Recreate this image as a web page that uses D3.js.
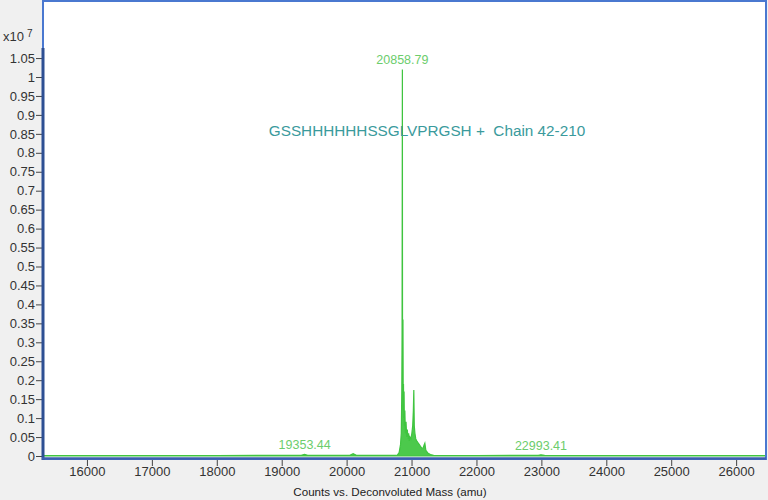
<!DOCTYPE html>
<html>
<head>
<meta charset="utf-8">
<script src="https://cdn.jsdelivr.net/npm/d3@7"></script>
<style>
  body { margin: 0; background: #f0f0f0; }
  svg { display: block; font-family: "Liberation Sans", Arial, sans-serif; }
</style>
</head>
<body>
<svg id="chart" width="768" height="500"></svg>
<script>
// spectrum profile, mass (amu) and counts in units of 1e7
const masses = [15323, 16500, 18000, 19300, 19353.44, 19400, 20050, 20100, 20150, 20780,
  20810, 20830, 20842, 20850, 20854, 20858.79, 20861, 20864, 20868, 20872,
  20876, 20880, 20885, 20890, 20897, 20905, 20915, 20925, 20935, 20945,
  20955, 20965, 20975, 20990, 21005, 21018, 21028, 21035, 21042, 21052,
  21065, 21080, 21100, 21120, 21140, 21160, 21180, 21195, 21205, 21220,
  21250, 21290, 21340, 22000, 22950, 22993.41, 23050, 24500, 26460]
const counts = [0.001, 0.001, 0.001, 0.002, 0.004, 0.002, 0.002, 0.006, 0.002, 0.002,
  0.01, 0.03, 0.06, 0.17, 0.32, 1.02, 0.35, 0.19, 0.36, 0.12,
  0.19, 0.1, 0.17, 0.08, 0.12, 0.06, 0.09, 0.05, 0.07, 0.045,
  0.06, 0.04, 0.05, 0.045, 0.06, 0.08, 0.12, 0.174, 0.08, 0.06,
  0.045, 0.04, 0.035, 0.03, 0.025, 0.02, 0.022, 0.03, 0.034, 0.015,
  0.008, 0.004, 0.002, 0.001, 0.002, 0.003, 0.002, 0.001, 0.001]
const spectrum = masses.map((m, i) => ({mass: m, count: counts[i]}))

// peak labels
const peakMasses = [19353.44, 20858.79, 22993.41]
const peakCounts = [0.004, 1.02, 0.003]

const xTicks = [16000, 17000, 18000, 19000, 20000, 21000, 22000, 23000, 24000, 25000, 26000]
const yTicks = d3.range(0, 1.0501, 0.05)

const annotation = "GSSHHHHHHSSGLVPRGSH +  Chain 42-210"
const xTitle = "Counts vs. Deconvoluted Mass (amu)"

const svg = d3.select('#chart')
const plotLeft = 43, plotRight = 766, plotTop = 1, plotBottom = 459

const x = d3.scaleLinear().domain([15323, 26460]).range([plotLeft, plotRight])
const y = d3.scaleLinear().domain([0, 1]).range([456, 77])

// plot area
svg.append('rect')
  .attr('x', plotLeft).attr('y', plotTop)
  .attr('width', plotRight - plotLeft).attr('height', plotBottom - plotTop)
  .attr('fill', '#ffffff')
  .attr('stroke', '#4a78d0').attr('stroke-width', 2)

svg.append('clipPath').attr('id', 'clip')
  .append('rect').attr('x', plotLeft + 1).attr('y', plotTop + 1)
  .attr('width', plotRight - plotLeft - 2).attr('height', plotBottom - plotTop - 2)

const plot = svg.append('g').attr('clip-path', 'url(#clip)')

plot.append('path')
  .datum(spectrum)
  .attr('fill', '#4cc94c')
  .attr('stroke', '#3fc43f')
  .attr('stroke-width', 1.2)
  .attr('d', d3.area()
    .x(d => x(d.mass))
    .y0(y(0))
    .y1(d => y(d.count)))

// peak labels
plot.selectAll('.peak')
  .data(peakMasses)
  .join('text')
    .attr('class', 'peak')
    .attr('x', d => x(d))
    .attr('y', (d, i) => y(peakCounts[i]) - 5)
    .attr('text-anchor', 'middle')
    .attr('font-size', 12.5)
    .attr('fill', '#6ccd6c')
    .text(d => d.toFixed(2))

plot.append('text')
  .attr('x', 427).attr('y', 136)
  .attr('text-anchor', 'middle')
  .attr('font-size', 15.3)
  .attr('fill', '#3a9a9c')
  .attr('xml:space', 'preserve')
  .text(annotation)

// x axis
const xg = svg.append('g').attr('transform', 'translate(0,' + 460 + ')')
  .call(d3.axisBottom(x).tickValues(xTicks).tickFormat(d3.format('d')).tickSizeOuter(0).tickSize(6))
xg.select('.domain').remove()
xg.selectAll('line').attr('stroke', '#444')
xg.selectAll('text').attr('font-size', 13).attr('fill', '#333').attr('y', 7)
  .attr('font-family', '"Liberation Sans", Arial, sans-serif')

// y axis
const yg = svg.append('g').attr('transform', 'translate(' + 42 + ',0)')
  .call(d3.axisLeft(y).tickValues(yTicks).tickFormat(d => d3.format('~g')(+d.toFixed(2))).tickSizeOuter(0).tickSize(6))
yg.select('.domain').remove()
yg.selectAll('line').attr('stroke', '#444')
yg.selectAll('text').attr('font-size', 13).attr('fill', '#333').attr('x', -7)
  .attr('font-family', '"Liberation Sans", Arial, sans-serif')

// heavy axis lines
svg.append('line')
  .attr('x1', 43).attr('x2', 43).attr('y1', y(1.05) - 10).attr('y2', 460)
  .attr('stroke', '#2d4f93').attr('stroke-width', 3)
svg.append('line')
  .attr('x1', 42).attr('x2', plotRight).attr('y1', 458.5).attr('y2', 458.5)
  .attr('stroke', '#3d5fb0').attr('stroke-width', 2.5)

// exponent
const ex = svg.append('text').attr('x', 3).attr('y', 41)
  .attr('font-size', 13).attr('fill', '#333')
ex.append('tspan').text('x10')
ex.append('tspan').attr('dx', 3).attr('dy', -4).attr('font-size', 10).text('7')

svg.append('text')
  .attr('x', 390).attr('y', 496)
  .attr('text-anchor', 'middle')
  .attr('font-size', 11.6)
  .attr('fill', '#222')
  .text(xTitle)
</script>
</body>
</html>
